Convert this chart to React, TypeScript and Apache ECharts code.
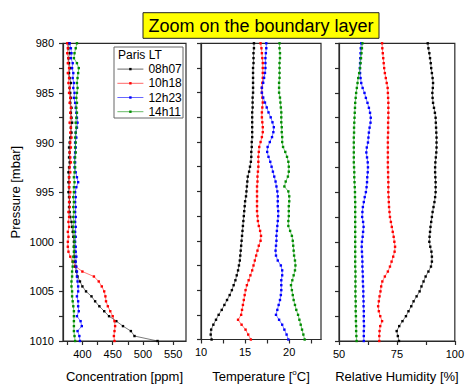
import React, { useEffect, useRef } from 'react';
import * as echarts from 'echarts';

const PRESSURE = [
  980, 980.5, 981, 981.5, 982, 982.5, 983, 983.5, 984, 984.5,
  985, 985.5, 986, 986.5, 987, 987.5, 988, 988.5, 989, 989.5,
  990, 990.5, 991, 991.5, 992, 992.5, 993, 993.5, 994, 994.5,
  995, 995.5, 996, 996.5, 997, 997.5, 998, 998.5, 999, 999.5,
  1000, 1000.5, 1001, 1001.5, 1002, 1002.5, 1003, 1003.5, 1004, 1004.5,
  1005, 1005.5, 1006, 1006.5, 1007, 1007.5, 1008, 1008.5, 1009, 1009.5,
  1010,
];

const SERIES_NAMES = ['08h07', '10h18', '12h23', '14h11'];
const COLORS = ['#000000', '#ff0000', '#0000ff', '#008c00'];

// CO2 concentration [ppm]
const CONC_0807 = [
  378, 377, 379, 377, 378, 380, 378, 379, 381, 379,
  380, 381, 380, 382, 381, 382, 383, 381, 382, 380,
  379, 378, 379, 378, 379, 378, 377, 378, 377, 378,
  377, 378, 379, 378, 379, 380, 382, 383, 384, 385,
  386, 386, 387, 387, 388, 388, 390, 392, 396, 400,
  406, 415, 421, 428, 436, 444, 456, 467, 480, 486,
  524,
];
const CONC_1018 = [
  375, 376, 375, 377, 376, 378, 376, 378, 377, 379,
  378, 380, 379, 381, 380, 381, 379, 381, 380, 382,
  380, 381, 379, 380, 381, 379, 380, 378, 379, 378,
  380, 379, 378, 379, 377, 378, 377, 378, 376, 377,
  376, 376, 377, 380, 384, 389, 400, 419, 427, 432,
  436, 438, 439, 442, 446, 450, 453, 454, 453, 452,
  453,
];
const CONC_1223 = [
  379, 381, 382, 381, 384, 383, 385, 384, 386, 385,
  387, 386, 388, 389, 390, 391, 392, 391, 389, 390,
  388, 389, 388, 387, 388, 387, 389, 391, 393, 390,
  388, 389, 388, 389, 388, 389, 388, 389, 388, 389,
  388, 389, 389, 390, 389, 390, 391, 391, 392, 393,
  393, 391, 393, 393, 394, 391, 397, 399, 392, 395,
  396,
];
const CONC_1411 = [
  391, 389, 387, 386, 391, 394, 393, 392, 391, 392,
  391, 390, 391, 390, 391, 390, 389, 390, 389, 388,
  389, 388, 389, 388, 387, 388, 387, 386, 387, 386,
  386, 385, 386, 385, 386, 385, 386, 385, 386, 387,
  387, 386, 386, 385, 384, 384, 383, 383, 382, 382,
  383, 383, 384, 385, 386, 386, 386, 386, 386, 387,
  388,
];

// Temperature [°C]
const TEMP_0807 = [
  16.0, 16.0, 15.95, 15.95, 15.95, 15.9, 15.9, 15.9, 15.9, 15.9,
  15.9, 15.85, 15.85, 15.85, 15.8, 15.8, 15.8, 15.8, 15.8, 15.8,
  15.75, 15.75, 15.7, 15.7, 15.65, 15.55, 15.45, 15.3, 15.25, 15.2,
  15.15, 15.1, 15.0, 14.95, 14.9, 14.85, 14.8, 14.75, 14.7, 14.65,
  14.6, 14.55, 14.5, 14.45, 14.4, 14.3, 14.2, 14.05, 13.9, 13.7,
  13.5, 13.25, 12.95, 12.65, 12.35, 12.0, 11.7, 11.4, 11.15, 11.1,
  11.2,
];
const TEMP_1018 = [
  16.75, 16.85, 16.9, 16.95, 17.0, 17.0, 17.0, 17.0, 16.95, 16.9,
  16.9, 16.95, 17.0, 16.95, 16.9, 16.9, 16.95, 17.0, 17.0, 16.9,
  16.75, 16.6, 16.55, 16.5, 16.5, 16.5, 16.45, 16.4, 16.4, 16.35,
  16.35, 16.35, 16.35, 16.35, 16.35, 16.4, 16.45, 16.55, 16.7, 16.8,
  16.75, 16.55, 16.4, 16.25, 16.1, 15.95, 15.8, 15.6, 15.4, 15.2,
  15.05, 14.95, 14.85, 14.75, 14.65, 14.55, 14.2, 14.6, 15.05, 15.35,
  15.65,
];
const TEMP_1223 = [
  17.4, 17.4, 17.35, 17.3, 17.3, 17.3, 17.25, 17.15, 17.05, 16.9,
  16.9, 17.05, 17.25, 17.45, 17.65, 17.9, 18.1, 18.25, 18.2, 18.05,
  17.8, 17.55, 17.5, 17.65, 17.85, 18.0, 18.15, 18.3, 18.45, 18.55,
  18.65, 18.7, 18.7, 18.7, 18.75, 18.75, 18.7, 18.65, 18.6, 18.55,
  18.55, 18.5, 18.45, 18.5, 18.7, 19.05, 19.2, 19.2, 19.1, 19.1,
  19.1, 19.05, 18.95, 18.8, 18.65, 18.5, 18.85, 19.2, 19.45, 19.7,
  19.9,
];
const TEMP_1411 = [
  18.9, 18.9, 18.95, 18.95, 18.9, 18.9, 18.9, 18.9, 18.85, 18.85,
  18.85, 18.95, 19.0, 19.05, 19.1, 19.1, 19.1, 19.15, 19.15, 19.2,
  19.2, 19.3, 19.55, 19.75, 19.9, 19.95, 19.95, 19.85, 19.6, 19.45,
  19.9, 20.0, 20.0, 19.95, 19.95, 19.95, 19.9, 19.9, 20.1, 20.3,
  20.4, 20.45, 20.5, 20.55, 20.65, 20.7, 20.65, 20.5, 20.35, 20.2,
  20.3, 20.4, 20.5, 20.65, 20.8, 21.0, 21.15, 21.3, 21.45, 21.6,
  21.75,
];

// Relative humidity [%]
const RH_0807 = [
  88.3, 88.6, 89.0, 89.3, 89.6, 89.8, 90.1, 90.4, 90.6, 90.5,
  90.3, 90.4, 90.6, 91.0, 91.4, 91.7, 91.8, 91.9, 92.0, 92.1,
  92.1, 92.1, 92.0, 91.8, 91.6, 91.5, 91.5, 91.6, 91.7, 91.7,
  91.7, 91.5, 91.2, 90.8, 90.4, 90.1, 89.8, 89.5, 89.3, 89.1,
  89.0, 89.4, 89.9, 90.1, 90.1, 89.7, 88.6, 87.4, 86.5, 85.6,
  84.8, 83.5, 82.2, 81.2, 80.0, 78.9, 77.4, 76.0, 74.9, 75.4,
  75.9,
];
const RH_1018 = [
  68.6, 68.7, 68.9, 69.1, 69.3, 69.5, 69.8, 70.2, 70.6, 71.0,
  71.1, 71.2, 71.3, 71.3, 71.3, 71.3, 71.2, 71.2, 71.2, 71.1,
  71.1, 71.1, 71.1, 71.1, 71.1, 71.1, 71.2, 71.2, 71.3, 71.3,
  71.3, 71.4, 71.5, 71.6, 71.8, 72.0, 72.4, 72.8, 73.2, 73.6,
  73.9, 74.2, 74.0, 73.4, 72.7, 72.0, 71.1, 69.8, 68.7, 68.2,
  67.9, 67.5, 67.2, 66.9, 67.2, 67.8, 68.6, 67.8, 67.5, 67.4,
  67.4,
];
const RH_1223 = [
  59.6, 59.4, 59.3, 59.2, 59.1, 59.0, 59.1, 59.3, 59.6, 60.2,
  61.0, 61.6, 62.3, 62.9, 63.4, 63.7, 63.6, 63.2, 62.9, 62.7,
  62.5, 62.0, 61.8, 62.1, 62.4, 62.5, 62.4, 62.2, 62.1, 61.9,
  61.6, 61.1, 60.7, 60.3, 60.1, 60.0, 60.4, 60.6, 60.4, 60.2,
  59.9, 59.8, 59.9, 60.0, 60.1, 60.1, 60.2, 60.3, 60.3, 60.4,
  60.5, 60.5, 60.6, 60.6, 60.7, 60.7, 60.7, 60.8, 60.7, 60.7,
  60.7,
];
const RH_1411 = [
  60.1, 59.9, 59.7, 59.5, 59.3, 59.1, 58.7, 58.3, 58.0, 57.7,
  57.4, 57.2, 57.0, 56.9, 56.8, 56.7, 56.6, 56.5, 56.5, 56.4,
  56.4, 56.4, 56.4, 56.4, 56.4, 56.5, 56.6, 56.6, 56.7, 56.8,
  56.9, 56.9, 57.0, 57.0, 57.0, 57.0, 57.0, 57.0, 57.0, 57.0,
  57.0, 57.0, 57.0, 57.0, 57.0, 57.0, 57.1, 57.1, 57.1, 57.1,
  57.1, 57.1, 57.2, 57.2, 57.2, 57.3, 57.3, 57.4, 57.4, 57.5,
  57.6,
];

const CONC_LABELS = [400, 450, 500, 550];
const CONC_TICKS = [375, 400, 425, 450, 475, 500, 525, 550];
const TEMP_LABELS = [10, 15, 20];
const TEMP_TICKS = [10, 12.5, 15, 17.5, 20, 22.5];
const RH_LABELS = [50, 75, 100];
const RH_TICKS = [50, 62.5, 75, 87.5, 100];
const P_LABELS = [980, 985, 990, 995, 1000, 1005, 1010];
const P_TICKS = [980, 982.5, 985, 987.5, 990, 992.5, 995, 997.5, 1000, 1002.5, 1005, 1007.5, 1010];

const FONT = '"Liberation Sans", Arial, Helvetica, sans-serif';

export default function App() {
  const ref = useRef<HTMLDivElement>(null);

  useEffect(() => {
    if (!ref.current) return;
    const chart = echarts.init(ref.current, null, { renderer: 'svg' });

    const panels = [
      { data: [CONC_0807, CONC_1018, CONC_1223, CONC_1411], min: 368, max: 571, labels: CONC_LABELS, ticks: CONC_TICKS, name: 'Concentration [ppm]' },
      { data: [TEMP_0807, TEMP_1018, TEMP_1223, TEMP_1411], min: 10, max: 23.6, labels: TEMP_LABELS, ticks: TEMP_TICKS, name: 'Temperature [{sup|o}C]' },
      { data: [RH_0807, RH_1018, RH_1223, RH_1411], min: 50, max: 100, labels: RH_LABELS, ticks: RH_TICKS, name: 'Relative Humidity [%]' },
    ];
    const lefts = [63, 201, 339];
    const widths = [123, 120, 121];

    const axisLineStyle = { color: '#2a2a2a', width: 1.2 };
    const plain = (v: number) => String(v);

    const grid = panels.map((_, i) => ({
      left: lefts[i], top: 43.3, width: widths[i], height: 303.4,
      show: true, borderColor: '#2a2a2a', borderWidth: 1.2, backgroundColor: '#fff',
    }));

    const xAxis = panels.map((p, i) => ({
      type: 'value', gridIndex: i, min: p.min, max: p.max,
      axisLine: { show: true, lineStyle: axisLineStyle },
      axisTick: { show: true, length: 4, inside: false, customValues: p.ticks, lineStyle: axisLineStyle },
      axisLabel: { customValues: p.labels, formatter: plain, color: '#000', fontSize: 11, fontFamily: FONT, margin: 7, showMinLabel: true, showMaxLabel: true },
      splitLine: { show: false },
      name: p.name, nameLocation: 'middle', nameGap: 29,
      nameTextStyle: {
        color: '#000', fontSize: 13, fontFamily: FONT,
        rich: { sup: { fontSize: 8, verticalAlign: 'top', lineHeight: 16, fontFamily: FONT, color: '#000' } },
      },
    }));

    const yAxis = panels.map((_, i) => ({
      type: 'value', gridIndex: i, min: 980, max: 1010, inverse: true,
      axisLine: { show: true, lineStyle: axisLineStyle },
      axisTick: { show: true, length: 4, inside: false, customValues: P_TICKS, lineStyle: axisLineStyle },
      axisLabel: { show: i === 0, customValues: P_LABELS, formatter: plain, color: '#000', fontSize: 11, fontFamily: FONT, margin: 9 },
      splitLine: { show: false },
      name: i === 0 ? 'Pressure [mbar]' : '', nameLocation: 'middle', nameGap: 41,
      nameTextStyle: { color: '#000', fontSize: 13, fontFamily: FONT },
    }));

    const series: any[] = [];
    panels.forEach((p, gi) => {
      p.data.forEach((vals, si) => {
        series.push({
          type: 'line', name: SERIES_NAMES[si], xAxisIndex: gi, yAxisIndex: gi,
          data: vals.map((v, k) => [v, PRESSURE[k]]),
          symbol: 'rect', symbolSize: 2.4, showSymbol: true,
          lineStyle: { color: COLORS[si], width: 0.7, opacity: 0.75 },
          itemStyle: { color: COLORS[si] },
          emphasis: { disabled: true },
        });
      });
    });

    chart.setOption({
      animation: false,
      backgroundColor: '#fff',
      grid, xAxis, yAxis, series,
      legend: {
        data: SERIES_NAMES, orient: 'vertical', left: 117, top: 62,
        itemWidth: 26, itemHeight: 3, itemGap: 0, padding: 0,
        lineStyle: { width: 0.8 },
        textStyle: { color: '#000', fontSize: 12, fontFamily: FONT, lineHeight: 14.2 },
        selectedMode: false,
      },
      graphic: [
        { type: 'rect', shape: { x: 114, y: 47, width: 69, height: 71 }, style: { fill: '#fff', stroke: '#666', lineWidth: 1 }, z: 1 },
        { type: 'text', x: 118, y: 49, style: { text: 'Paris LT', fill: '#000', font: `12px ${FONT}` }, z: 2 },
        { type: 'rect', shape: { x: 143, y: 12.7, width: 236, height: 25.6 }, style: { fill: '#ffff00', stroke: '#222', lineWidth: 1 }, z: 1 },
        { type: 'text', x: 261, y: 25.5, style: { text: 'Zoom on the boundary layer', fill: '#000', font: `18px ${FONT}`, align: 'center', verticalAlign: 'middle' }, z: 2 },
      ],
    });

    return () => chart.dispose();
  }, []);

  return <div ref={ref} style={{ position: 'fixed', left: 0, top: 0, width: 467, height: 388, background: '#fff' }} />;
}
